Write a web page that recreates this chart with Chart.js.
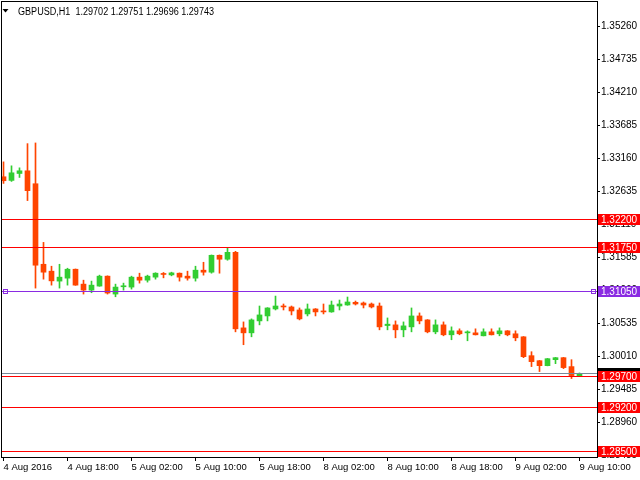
<!DOCTYPE html>
<html>
<head>
<meta charset="utf-8">
<script src="https://cdn.jsdelivr.net/npm/chart.js@4"></script>
<style>
  html, body { margin: 0; padding: 0; background: #fff; }
  canvas { display: block; }
</style>
</head>
<body>
<canvas id="chart" width="640" height="480"></canvas>
<script>
// GBPUSD H1 candles, 4 Aug 10:00 -> 9 Aug 10:00
const opens = [
  1.32872, 1.32814, 1.32924, 1.32967, 1.32761, 1.31480, 1.31370, 1.31212, 1.31259, 1.31401,
  1.31164, 1.31069, 1.31133, 1.31291, 1.31006, 1.31122, 1.31117, 1.31275, 1.31227, 1.31275,
  1.31327, 1.31311, 1.31338, 1.31291, 1.31259, 1.31386, 1.31354, 1.31623, 1.31560, 1.31670,
  1.30468, 1.30389, 1.30579, 1.30658, 1.30769, 1.30816, 1.30801, 1.30753, 1.30690, 1.30769,
  1.30737, 1.30722, 1.30816, 1.30832, 1.30875, 1.30864, 1.30848, 1.30816, 1.30505, 1.30516,
  1.30437, 1.30484, 1.30658, 1.30595, 1.30405, 1.30516, 1.30358, 1.30421, 1.30389, 1.30389,
  1.30342, 1.30405, 1.30374, 1.30421, 1.30374, 1.30326, 1.30026, 1.29946, 1.29867, 1.29962,
  1.29994, 1.29852, 1.29702
];
const highs = [
  1.33109, 1.33046, 1.33014, 1.33399, 1.33410, 1.31828, 1.31449, 1.31480, 1.31417, 1.31405,
  1.31227, 1.31212, 1.31307, 1.31296, 1.31164, 1.31180, 1.31291, 1.31338, 1.31307, 1.31345,
  1.31349, 1.31354, 1.31342, 1.31370, 1.31449, 1.31512, 1.31628, 1.31628, 1.31734, 1.31686,
  1.30563, 1.30611, 1.30816, 1.30790, 1.30974, 1.30848, 1.30816, 1.30785, 1.30848, 1.30775,
  1.30848, 1.30895, 1.30911, 1.30959, 1.30895, 1.30880, 1.30864, 1.30864, 1.30626, 1.30579,
  1.30563, 1.30785, 1.30706, 1.30600, 1.30595, 1.30563, 1.30484, 1.30453, 1.30421, 1.30453,
  1.30453, 1.30453, 1.30468, 1.30425, 1.30421, 1.30330, 1.30089, 1.29950, 1.29982, 1.29998,
  1.29998, 1.29962, 1.29751
];
const lows = [
  1.32766, 1.32798, 1.32861, 1.32493, 1.31101, 1.31243, 1.31148, 1.31101, 1.31148, 1.31145,
  1.31006, 1.31027, 1.31130, 1.31006, 1.30963, 1.31069, 1.31085, 1.31180, 1.31196, 1.31243,
  1.31264, 1.31296, 1.31212, 1.31227, 1.31212, 1.31307, 1.31338, 1.31338, 1.31544, 1.30405,
  1.30200, 1.30326, 1.30516, 1.30579, 1.30753, 1.30753, 1.30674, 1.30595, 1.30658, 1.30658,
  1.30690, 1.30716, 1.30753, 1.30828, 1.30832, 1.30785, 1.30785, 1.30437, 1.30437, 1.30310,
  1.30326, 1.30405, 1.30532, 1.30389, 1.30374, 1.30342, 1.30279, 1.30358, 1.30263, 1.30355,
  1.30340, 1.30355, 1.30342, 1.30342, 1.30263, 1.29994, 1.29852, 1.29773, 1.29864, 1.29899,
  1.29820, 1.29662, 1.29696
];
const closes = [
  1.32809, 1.32935, 1.32967, 1.32651, 1.31465, 1.31354, 1.31216, 1.31275, 1.31401, 1.31148,
  1.31069, 1.31148, 1.31291, 1.31022, 1.31117, 1.31133, 1.31275, 1.31227, 1.31291, 1.31338,
  1.31318, 1.31343, 1.31275, 1.31259, 1.31386, 1.31354, 1.31623, 1.31560, 1.31670, 1.30453,
  1.30389, 1.30595, 1.30674, 1.30785, 1.30816, 1.30801, 1.30737, 1.30611, 1.30769, 1.30722,
  1.30722, 1.30832, 1.30848, 1.30880, 1.30848, 1.30832, 1.30801, 1.30484, 1.30527, 1.30437,
  1.30500, 1.30658, 1.30579, 1.30405, 1.30516, 1.30358, 1.30421, 1.30374, 1.30405, 1.30358,
  1.30405, 1.30358, 1.30421, 1.30358, 1.30310, 1.30010, 1.29931, 1.29867, 1.29978, 1.29994,
  1.29836, 1.29709, 1.29743
];

// time axis: a label every 8 bars
const timeTickIdx = [0, 8, 16, 24, 32, 40, 48, 56, 64, 72];
const timeTickLabels = ['4 Aug 2016', '4 Aug 18:00', '5 Aug 02:00', '5 Aug 10:00', '5 Aug 18:00',
  '8 Aug 02:00', '8 Aug 10:00', '8 Aug 18:00', '9 Aug 02:00', '9 Aug 10:00'];

const priceTicks = [1.28435, 1.28960, 1.29485, 1.30010, 1.30535, 1.31060, 1.31585,
  1.32110, 1.32635, 1.33160, 1.33685, 1.34210, 1.34735, 1.35260];

// horizontal levels
const redLevels = [1.32200, 1.31750, 1.29700, 1.29200, 1.28500];
const purpleLevel = 1.31050;
const bidLevel = 1.29743;
const titleText = 'GBPUSD,H1  1.29702 1.29751 1.29696 1.29743';

const BULL = '#32cd32';
const BEAR = '#ff4500';
const RED = '#ff0000';
const PURPLE = '#8a2be2';
const FONT = '"Liberation Sans", Arial, sans-serif';

const colors = closes.map((c, i) => (c >= opens[i] ? BULL : BEAR));
const wicks = lows.map((l, i) => ({ x: i, y: [l, highs[i]] }));
const bodies = opens.map((o, i) => ({ x: i, y: [o, closes[i]] }));

const overlay = {
  id: 'overlay',
  afterDraw(chart) {
    const { ctx, chartArea: a, scales: { y } } = chart;
    ctx.save();

    // level lines across the plot
    const hline = (v, color) => {
      const py = Math.floor(y.getPixelForValue(v));
      ctx.fillStyle = color;
      ctx.fillRect(a.left, py, a.right - a.left, 1);
    };
    hline(bidLevel, '#778899');
    redLevels.forEach(v => hline(v, RED));
    hline(purpleLevel, PURPLE);

    // little anchor squares on the purple line
    const pp = Math.floor(y.getPixelForValue(purpleLevel)) + 0.5;
    ctx.strokeStyle = PURPLE;
    ctx.lineWidth = 1;
    ctx.strokeRect(3.5, pp - 2, 4, 4);
    ctx.strokeRect(a.right - 5.5, pp - 2, 4, 4);

    // frame
    ctx.strokeStyle = '#000';
    ctx.strokeRect(a.left + 0.5, a.top + 0.5, a.right - a.left, a.bottom - a.top);

    // price boxes on the right scale
    ctx.font = '10px ' + FONT;
    ctx.textBaseline = 'middle';
    const box = (v, bg, text) => {
      const py = Math.floor(y.getPixelForValue(v));
      ctx.fillStyle = bg;
      ctx.fillRect(a.right + 1, py - 5, 640 - a.right - 1, 11);
      if (text) {
        ctx.fillStyle = '#fff';
        ctx.fillText(v.toFixed(5), a.right + 4, py + 1);
      }
    };
    box(bidLevel, '#000', false);
    redLevels.forEach(v => box(v, RED, true));
    box(purpleLevel, PURPLE, true);

    // symbol line, top left (squeezed a little, the original font is narrower)
    ctx.fillStyle = '#000';
    ctx.beginPath();
    ctx.moveTo(2.5, 9);
    ctx.lineTo(8.5, 9);
    ctx.lineTo(5.5, 12.5);
    ctx.closePath();
    ctx.fill();
    ctx.textBaseline = 'alphabetic';
    const sx = Math.min(1, 196 / ctx.measureText(titleText).width);
    ctx.translate(18, 15);
    ctx.scale(sx, 1);
    ctx.fillText(titleText, 0, 0);
    ctx.restore();
  }
};

new Chart(document.getElementById('chart'), {
  type: 'bar',
  data: {
    datasets: [
      {
        data: bodies,
        backgroundColor: colors,
        borderWidth: 0,
        barThickness: 5,
        minBarLength: 1,
        grouped: false
      },
      {
        data: wicks,
        backgroundColor: colors,
        borderWidth: 0,
        barThickness: 1,
        grouped: false
      }
    ]
  },
  options: {
    responsive: false,
    animation: false,
    devicePixelRatio: 1,
    layout: { padding: { top: 1, left: 1, right: 0, bottom: 0 } },
    plugins: { legend: { display: false }, tooltip: { enabled: false } },
    scales: {
      x: {
        type: 'linear',
        offset: false,
        min: -0.3125,
        max: 74.1875,
        afterBuildTicks: s => { s.ticks = timeTickIdx.map(v => ({ value: v })); },
        afterFit: s => { s.height = 23; },
        border: { display: false },
        grid: { display: true, offset: false, drawOnChartArea: false, drawTicks: true, tickLength: 4, color: '#000' },
        ticks: {
          autoSkip: false,
          maxRotation: 0,
          align: 'start',
          labelOffset: 0,
          padding: 1,
          color: '#000',
          font: { family: FONT, size: 9.5 },
          callback: (v, i) => timeTickLabels[i]
        }
      },
      y: {
        position: 'right',
        min: 1.28414,
        max: 1.35668,
        afterBuildTicks: s => { s.ticks = priceTicks.map(v => ({ value: v })); },
        afterFit: s => { s.width = 43; s.paddingTop = 0; s.paddingBottom = 0; },
        border: { display: false },
        grid: { display: true, drawOnChartArea: false, drawTicks: true, tickLength: 3, color: '#000' },
        ticks: {
          padding: 1,
          color: '#000',
          font: { family: FONT, size: 10 },
          callback: v => v.toFixed(5)
        }
      }
    }
  },
  plugins: [overlay]
});
</script>
</body>
</html>
